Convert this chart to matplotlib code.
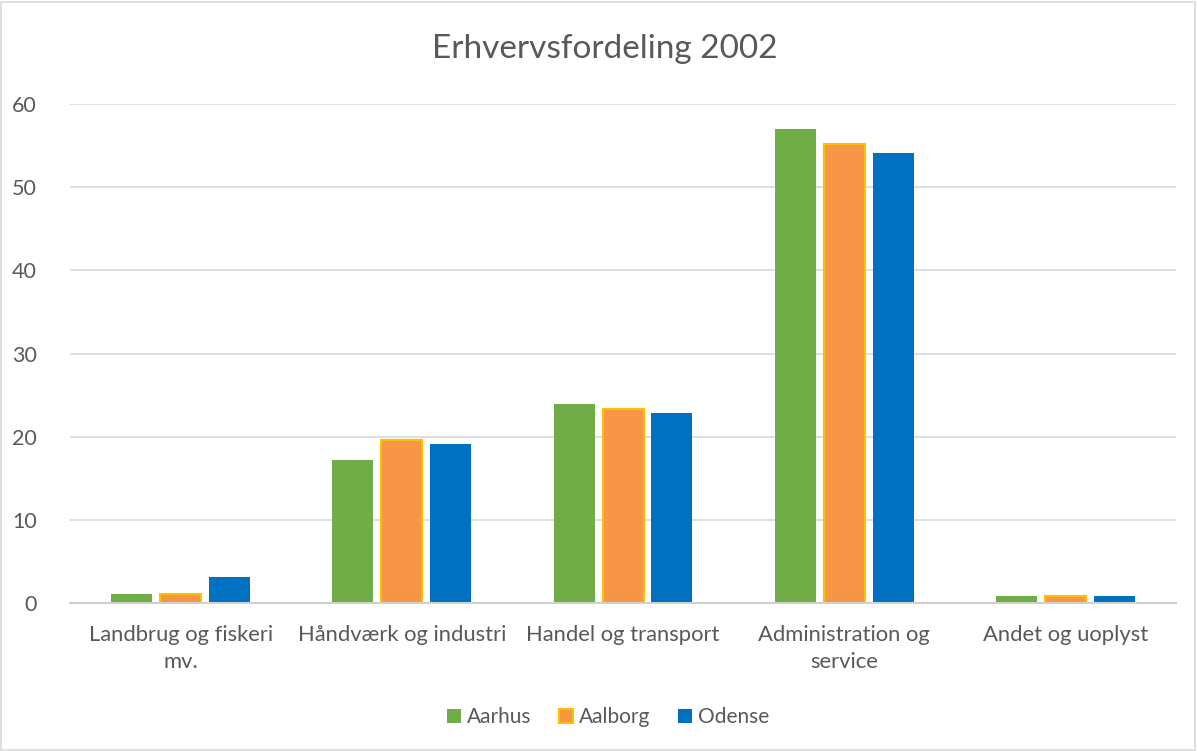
import matplotlib
matplotlib.use('Agg')
import matplotlib.pyplot as plt
import numpy as np
from matplotlib.patches import Rectangle

categories = ["Landbrug og fiskeri\nmv.", "Håndværk og industri", "Handel og transport",
              "Administration og\nservice", "Andet og uoplyst"]
aarhus = [1.1, 17.2, 23.9, 57.0, 0.9]
aalborg = [1.1, 19.6, 23.3, 55.2, 0.8]
odense = [3.1, 19.1, 22.9, 54.1, 0.9]
series_names = ["Aarhus", "Aalborg", "Odense"]
yticks = [0, 10, 20, 30, 40, 50, 60]

plt.rcParams['font.family'] = ['Lato', 'DejaVu Sans']
textColor = '#595959'

fig = plt.figure(figsize=(11.97, 7.51), dpi=100)
ax = fig.add_axes([0.0585, 0.197, 0.924, 0.6645])

x = np.arange(len(categories))
w = 0.185
off = 0.221
ax.bar(x - off, aarhus, w, color='#70AD47', label=series_names[0], zorder=3)
ax.bar(x, aalborg, w, color='#F79646', edgecolor='#FFC000', linewidth=1.5,
       label=series_names[1], zorder=3)
ax.bar(x + off, odense, w, color='#0070C0', label=series_names[2], zorder=3)

ax.set_xlim(-0.5, len(categories) - 0.5)
ax.set_ylim(0, 60)
ax.set_yticks(yticks)
ax.set_xticks(x)
ax.set_xticklabels(categories, fontsize=15.8, color=textColor, linespacing=1.45)
ax.tick_params(axis='y', labelsize=15.5, labelcolor=textColor, length=0, pad=24)
ax.tick_params(axis='x', length=0, pad=16)
ax.grid(axis='y', color='#D9D9D9', linewidth=1.2, zorder=0)
for s in ['top', 'right', 'left']:
    ax.spines[s].set_visible(False)
ax.spines['bottom'].set_color('#D0D0D0')
ax.spines['bottom'].set_linewidth(1.5)
ax.spines['bottom'].set_zorder(4)

fig.text(0.505, 0.935, "Erhvervsfordeling 2002", ha='center', va='center',
         fontsize=24, color=textColor)

leg = fig.legend(loc='center', bbox_to_anchor=(0.508, 0.045), ncol=3, frameon=False,
                 fontsize=15, handlelength=0.68, handleheight=0.68, handletextpad=0.3,
                 columnspacing=1.3)
for t in leg.get_texts():
    t.set_color(textColor)

# chart border
fig.patches.append(Rectangle((0.001, 0.001), 0.997, 0.997, transform=fig.transFigure,
                             fill=False, edgecolor='#D9D9D9', linewidth=1.2))

plt.savefig('out.png', dpi=100)
